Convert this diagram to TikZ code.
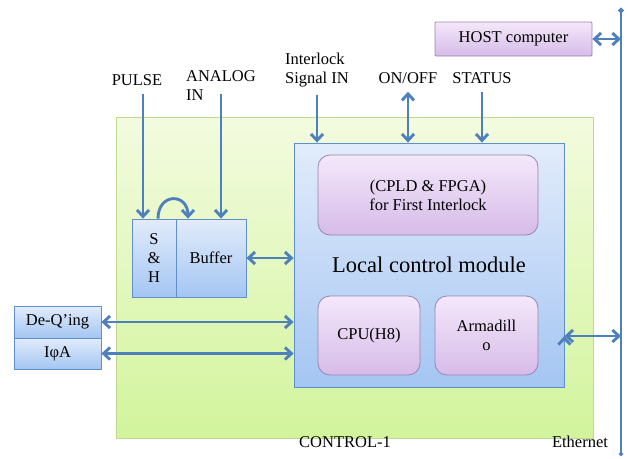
\documentclass[tikz,border=0pt]{standalone}
\usepackage{fontspec}
\setmainfont{Liberation Serif}
\usetikzlibrary{arrows.meta}
\definecolor{linkblue}{HTML}{4F80BE}
\definecolor{greentop}{HTML}{F3FBDF}
\definecolor{greenbot}{HTML}{D2F49C}
\definecolor{greenedge}{HTML}{BCD98E}
\definecolor{bluetop}{HTML}{E2ECFB}
\definecolor{bluebot}{HTML}{A4C5F2}
\definecolor{blueedge}{HTML}{5F8FCC}
\definecolor{purpletop}{HTML}{F4E8FA}
\definecolor{purplebot}{HTML}{D6BBE8}
\definecolor{purpleedge}{HTML}{9B82B3}
\tikzset{
  board/.style={draw=greenedge, line width=1pt, top color=greentop, bottom color=greenbot},
  bluebox/.style={draw=blueedge, line width=0.8pt, top color=bluetop, bottom color=bluebot, inner sep=0pt},
  purplebox/.style={draw=purpleedge, line width=0.8pt, top color=purpletop, bottom color=purplebot, inner sep=0pt},
  sig/.style={inner sep=8pt},
  link/.style={draw=linkblue, line width=2.9pt, >={Straight Barb[length=6.5pt,width=12pt]}}
}
\begin{document}
\begin{tikzpicture}[x=1pt,y=-1pt,font=\fontsize{16.5}{19}\selectfont]
  \useasboundingbox (0,0) rectangle (632,458);
  % board and modules
  \node[board, minimum width=477pt, minimum height=321pt] (ctl) at (354.5,277.5) {};
  \node[bluebox, minimum width=270pt, minimum height=244pt,
        font=\fontsize{22.5}{26}\selectfont] (lcm) at (429,265) {Local control module};
  \node[purplebox, rounded corners=12pt, minimum width=220pt, minimum height=80pt,
        align=center] (cpld) at (428,195) {(CPLD \& FPGA)\\for First Interlock};
  \node[purplebox, rounded corners=12pt, minimum width=102pt, minimum height=79pt] (cpu) at (369,335.5) {CPU(H8)};
  \node[purplebox, rounded corners=12pt, minimum width=103pt, minimum height=79pt,
        align=center] (arm) at (486.5,335.5) {Armadill\\o};
  \node[bluebox, minimum width=44pt, minimum height=78pt, align=center] (sh) at (154,258) {S\\\&\\H};
  \node[bluebox, minimum width=70pt, minimum height=78pt] (buf) at (211,258) {Buffer};
  \node[bluebox, minimum width=87pt, minimum height=32pt] (deq) at (57.5,322) {De-Q’ing};
  \node[bluebox, minimum width=87pt, minimum height=31pt] (ipa) at (57.5,353.5) {IφA};
  \node[purplebox, rounded corners=1pt, minimum width=157pt, minimum height=34pt] (host) at (513.5,39) {HOST computer};
  % signal labels
  \node[sig] (pulse) at (137,80) {PULSE};
  \node[sig, align=left] (analog) at (221,86) {ANALOG\\IN};
  \node[sig, align=left] (ilk) at (317,70) {Interlock\\Signal IN};
  \node[sig] (onoff) at (408,78) {ON/OFF};
  \node[sig] (status) at (482,78) {STATUS};
  \node (ctrl) at (345,442) {CONTROL-1};
  \node (eth) at (580,442) {Ethernet};
  % ethernet bus
  \coordinate (bustop) at (621,8);
  \coordinate (busbot) at (621,456);
  \draw[link, {Circle[length=5pt]}-{Circle[length=4pt]}] (bustop) -- (busbot);
  \path[link, ->]
    ([xshift=6pt]pulse.south) edge ([xshift=6pt]pulse.south |- sh.north)
    (analog |- pulse.south) edge (analog |- buf.north)
    (ilk.south) edge (ilk.south |- lcm.north)
    (onoff.south) edge[<->] (onoff.south |- lcm.north)
    (status.south) edge (status.south |- lcm.north)
    (buf.east) edge[<->] (buf.east -| lcm.west)
    (deq.east) edge[<->] (deq.east -| lcm.west)
    (ipa.east) edge[<->] (ipa.east -| lcm.west)
    (host.east) edge[<->] (host.east -| bustop)
    ([yshift=-71pt]lcm.east) edge[<->] ([yshift=-71pt]lcm.east -| bustop);
  \draw[link, ->] ([xshift=4pt]sh.north) .. controls +(0,-26) and +(0,-26) .. ([xshift=-23pt]buf.north);
\end{tikzpicture}
\end{document}
